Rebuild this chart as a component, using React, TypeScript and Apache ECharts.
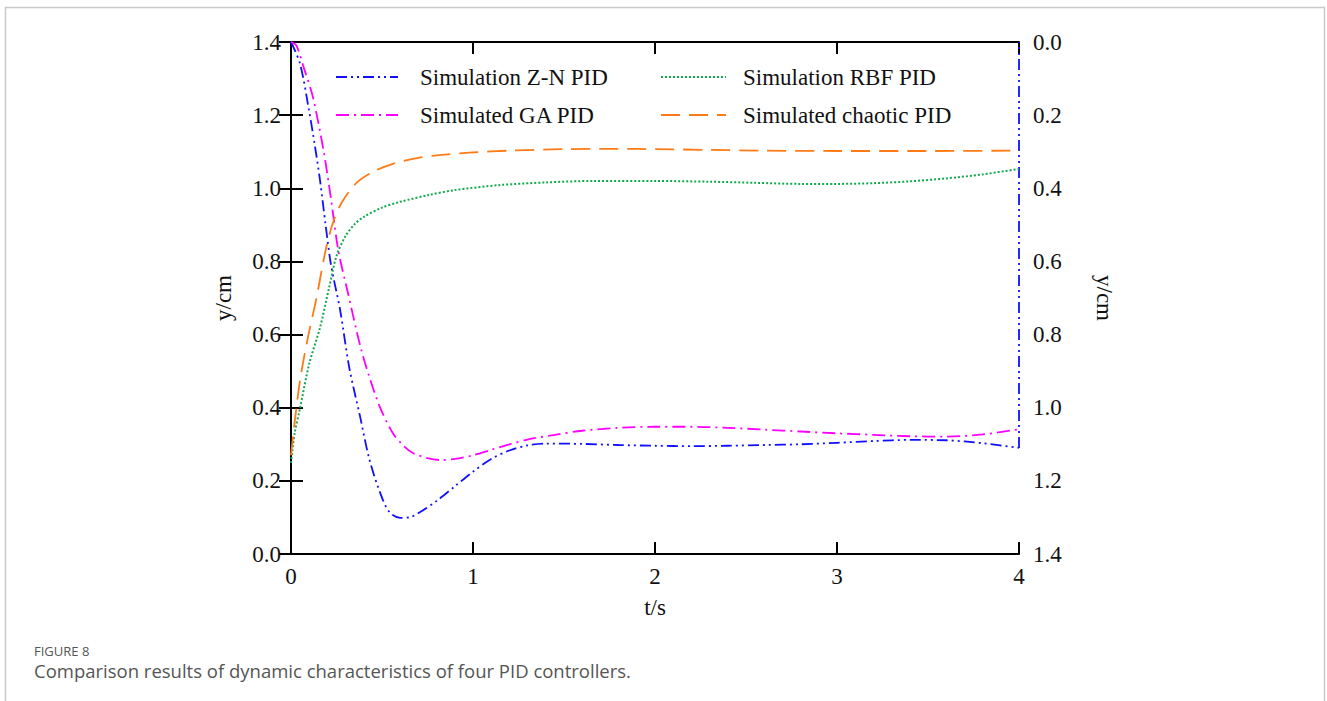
import React, { useEffect, useRef } from "react";
import * as echarts from "echarts";

// ---------- data ----------
const xTicks = [0, 1, 2, 3, 4];
const yTicks = [0, 0.2, 0.4, 0.6, 0.8, 1.0, 1.2, 1.4];

// Z-N PID (plotted on the inverted right axis)
const znT = [0, 0.05, 0.1, 0.13, 0.16, 0.19, 0.22, 0.27, 0.32, 0.38, 0.43, 0.49, 0.54, 0.6, 0.65, 0.71, 0.8, 0.9, 1.0, 1.1, 1.2, 1.3, 1.4, 1.6, 1.8, 2.0, 2.2, 2.4, 2.6, 2.8, 3.0, 3.2, 3.4, 3.6, 3.8, 4.0];
const znY = [0, 0.06, 0.19, 0.28, 0.38, 0.5, 0.61, 0.733, 0.89, 1.025, 1.14, 1.233, 1.285, 1.301, 1.3, 1.285, 1.255, 1.215, 1.175, 1.14, 1.117, 1.103, 1.098, 1.099, 1.102, 1.104, 1.105, 1.104, 1.102, 1.1, 1.096, 1.091, 1.088, 1.089, 1.097, 1.11];
const znJumpT = [4, 4];
const znJumpY = [1.11, 0];

// GA PID (plotted on the inverted right axis)
const gaT = [0, 0.03, 0.07, 0.12, 0.18, 0.22, 0.26, 0.31, 0.38, 0.43, 0.49, 0.56, 0.62, 0.67, 0.75, 0.82, 0.9, 1.0, 1.1, 1.2, 1.3, 1.45, 1.6, 1.8, 2.0, 2.2, 2.4, 2.6, 2.8, 3.0, 3.2, 3.4, 3.6, 3.8, 4.0];
const gaY = [0, 0.01, 0.07, 0.15, 0.3, 0.43, 0.57, 0.68, 0.83, 0.915, 1.0, 1.07, 1.105, 1.124, 1.138, 1.143, 1.14, 1.13, 1.115, 1.1, 1.087, 1.074, 1.063, 1.055, 1.052, 1.052, 1.055, 1.06, 1.065, 1.07, 1.074, 1.078, 1.079, 1.073, 1.059];

// RBF PID (left axis)
const rbfT = [0, 0.02, 0.05, 0.1, 0.16, 0.21, 0.25, 0.3, 0.35, 0.4, 0.5, 0.6, 0.76, 0.9, 1.15, 1.4, 1.66, 2.0, 2.3, 2.55, 2.8, 3.0, 3.2, 3.4, 3.6, 3.8, 4.0];
const rbfY = [0.249, 0.33, 0.4, 0.52, 0.62, 0.73, 0.815, 0.87, 0.902, 0.922, 0.947, 0.963, 0.982, 0.995, 1.009, 1.016, 1.02, 1.02, 1.018, 1.015, 1.012, 1.012, 1.014, 1.019, 1.027, 1.038, 1.053];

// chaotic PID (left axis)
const chT = [0, 0.02, 0.05, 0.09, 0.14, 0.19, 0.23, 0.28, 0.36, 0.45, 0.56, 0.7, 0.8, 1.0, 1.2, 1.5, 1.8, 2.0, 2.3, 2.6, 3.0, 3.5, 4.0];
const chY = [0.27, 0.36, 0.476, 0.585, 0.7, 0.83, 0.905, 0.962, 1.015, 1.045, 1.067, 1.083, 1.09, 1.098, 1.103, 1.107, 1.108, 1.107, 1.105, 1.103, 1.102, 1.102, 1.103];

const names = ["Simulation Z-N PID", "Simulated GA PID", "Simulation RBF PID", "Simulated chaotic PID"];
const captionTitle = "FIGURE 8";
const captionText = "Comparison results of dynamic characteristics of four PID controllers.";

const zip = (t: number[], y: number[]) => t.map((v, i) => [v, y[i]]);

const SERIF = "'Liberation Serif', 'Times New Roman', serif";
const SANS = "'Open Sans', 'Noto Sans', sans-serif";

export default function App() {
  const ref = useRef<HTMLDivElement>(null);
  useEffect(() => {
    if (!ref.current) return;
    const chart = echarts.init(ref.current, null, { renderer: "svg" });
    const axisLine = { show: true, lineStyle: { color: "#000", width: 2 } };
    const tick = { show: true, inside: true, length: 12, lineStyle: { color: "#000", width: 2 } };
    const lbl = { fontFamily: SERIF, fontSize: 23, color: "#111" };
    const blue = "#1010ff";
    const magenta = "#ff00ff";
    const green = "#12a94e";
    const orange = "#ff7a14";
    const legendText = { fontFamily: SERIF, fontSize: 23, color: "#111", lineHeight: 26 };
    const option: any = {
      animation: false,
      backgroundColor: "#fff",
      grid: { left: 291, right: 308, top: 42, bottom: 147, containLabel: false },
      xAxis: [
        {
          type: "value", min: 0, max: 4, interval: 1, position: "bottom",
          axisLine, axisTick: tick, splitLine: { show: false },
          axisLabel: { ...lbl, margin: 11, formatter: (v: number) => (xTicks.includes(v) ? String(v) : "") },
          name: "t/s", nameLocation: "middle", nameGap: 42,
          nameTextStyle: { fontFamily: SERIF, fontSize: 23, color: "#111" },
        },
        {
          type: "value", min: 0, max: 4, interval: 1, position: "top",
          axisLine, axisTick: tick, splitLine: { show: false }, axisLabel: { show: false },
        },
      ],
      yAxis: [
        {
          type: "value", min: 0, max: 1.4, interval: 0.2, position: "left",
          axisLine, axisTick: tick, splitLine: { show: false },
          axisLabel: { ...lbl, margin: 10, formatter: (v: number) => v.toFixed(1) },
          name: "y/cm", nameLocation: "middle", nameGap: 56, nameRotate: 90,
          nameTextStyle: { fontFamily: SERIF, fontSize: 23, color: "#111" },
        },
        {
          type: "value", min: 0, max: 1.4, interval: 0.2, position: "right", inverse: true,
          axisLine, axisTick: tick, splitLine: { show: false },
          axisLabel: { ...lbl, margin: 14, formatter: (v: number) => v.toFixed(1) },
          name: "y/cm", nameLocation: "middle", nameGap: 74, nameRotate: -90,
          nameTextStyle: { fontFamily: SERIF, fontSize: 23, color: "#111" },
        },
      ],
      legend: [
        {
          data: [names[0], names[1]], orient: "vertical", left: 335, top: 64, padding: 0,
          icon: "inherit", itemWidth: 62, itemHeight: 14, itemGap: 12,
          itemStyle: { opacity: 0 },
          textStyle: { ...legendText, padding: [0, 0, 0, 17] },
        },
        {
          data: [names[2], names[3]], orient: "vertical", left: 660, top: 64, padding: 0,
          icon: "inherit", itemWidth: 65, itemHeight: 14, itemGap: 12,
          itemStyle: { opacity: 0 },
          textStyle: { ...legendText, padding: [0, 0, 0, 12] },
        },
      ],
      series: [
        {
          name: names[0], type: "line", yAxisIndex: 1, data: zip(znT, znY), showSymbol: false, symbol: "none",
          smooth: 0.3, color: blue, lineStyle: { color: blue, width: 1.8, type: [11, 4, 2, 4, 2, 4] },
        },
        {
          name: names[0], type: "line", yAxisIndex: 1, data: zip(znJumpT, znJumpY), showSymbol: false, symbol: "none",
          color: blue, lineStyle: { color: blue, width: 1.8, type: [11, 4, 2, 4, 2, 4] },
        },
        {
          name: names[1], type: "line", yAxisIndex: 1, data: zip(gaT, gaY), showSymbol: false, symbol: "none",
          smooth: 0.3, color: magenta, lineStyle: { color: magenta, width: 1.8, type: [13, 5, 2, 5] },
        },
        {
          name: names[2], type: "line", yAxisIndex: 0, data: zip(rbfT, rbfY), showSymbol: false, symbol: "none",
          smooth: 0.3, color: green, lineStyle: { color: green, width: 2, type: [2, 2] },
        },
        {
          name: names[3], type: "line", yAxisIndex: 0, data: zip(chT, chY), showSymbol: false, symbol: "none",
          smooth: 0.3, color: orange, lineStyle: { color: orange, width: 1.8, type: [19, 9] },
        },
      ],
      graphic: [
        {
          type: "rect", left: 3, top: 5, silent: true,
          shape: { width: 1319, height: 720 },
          style: { fill: "none", stroke: "#c9c9c9", lineWidth: 1.5 },
        },
        {
          type: "text", left: 34, top: 644,
          style: { text: captionTitle, fontFamily: SANS, fontSize: 13, lineHeight: 14, fill: "#555" },
        },
        {
          type: "text", left: 34, top: 661,
          style: { text: captionText, fontFamily: SANS, fontSize: 18.5, lineHeight: 17, fill: "#555" },
        },
      ],
    };
    chart.setOption(option);
    return () => chart.dispose();
  }, []);
  return <div ref={ref} style={{ position: "absolute", left: 0, top: 0, width: 1327, height: 701 }} />;
}
